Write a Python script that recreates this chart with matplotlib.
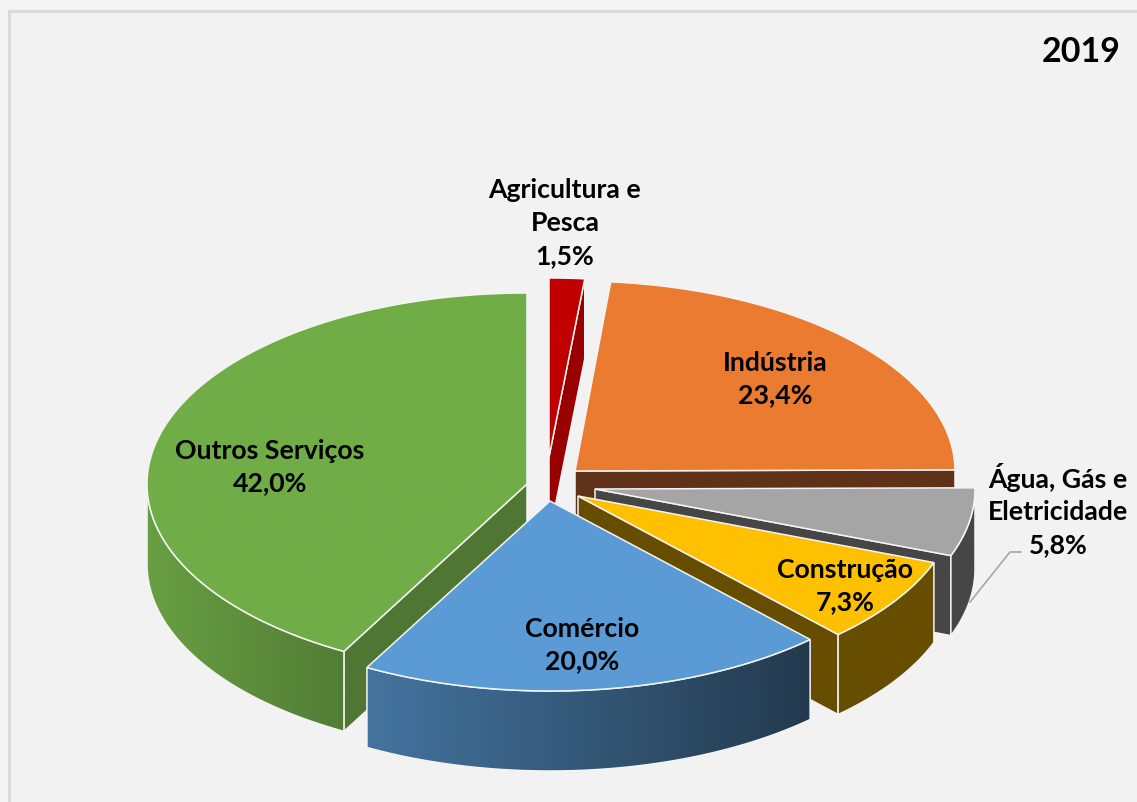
"""
Pizza 3D "explodida" com a composicao por setor em 2019.
O matplotlib nao tem pizza 3D, por isso as faces sao projetadas a mao.
"""

import matplotlib

matplotlib.use("Agg")

import matplotlib.pyplot as plt
import numpy as np
from matplotlib.patches import Polygon

# Dados
SETORES = [
    "Agricultura e\nPesca",
    "Indústria",
    "Água, Gás e\nEletricidade",
    "Construção",
    "Comércio",
    "Outros Serviços",
]
VALORES = [1.5, 23.4, 5.8, 7.3, 20.0, 42.0]
ANO = "2019"

# Estilo
COR_TOPO = ["#C00000", "#EA7B30", "#A5A5A5", "#FFC000", "#5B9BD5", "#70AD47"]
COR_CORTE = ["#990000", "#5F3218", "#464646", "#664D00", "#223A50", "#4F7733"]
COR_LADO_ESQ = ["#990000", "#5F3218", "#464646", "#664D00", "#44749F", "#689F43"]
COR_LADO_DIR = ["#990000", "#5F3218", "#464646", "#664D00", "#233A4E", "#527D35"]

# Geometria em pixels da imagem
LARGURA, ALTURA = 1137, 803
RX = 380
RY = [179, 190, 190, 190, 190, 191]
PROFUNDIDADE = 80
APICES = [(549, 458), (575, 472), (595, 490), (578, 497), (550, 502), (527, 485)]
ORDEM = [1, 0, 5, 2, 3, 4]  # de tras para a frente
POS_ROTULOS = [
    (565, 223),
    (775, 379),
    (1058, 510),
    (845, 586),
    (582, 645),
    (270, 467),
]
GUIA_X = [1021, 1010, 970]
GUIA_Y = [553, 553, 603]


def arco(apice, ry, ini, fim):
    """Pontos da borda entre dois angulos (graus, horario a partir do topo)."""
    t = np.radians(np.linspace(ini, fim, 120))
    return np.column_stack((apice[0] + RX * np.sin(t), apice[1] - ry * np.cos(t)))


def face(eje, pontos, cor_esq, cor_dir, z):
    """Preenche um poligono com degrade horizontal e contorno branco."""
    x0, x1 = pontos[:, 0].min(), pontos[:, 0].max()
    y0, y1 = pontos[:, 1].min(), pontos[:, 1].max()
    c0 = np.array(matplotlib.colors.to_rgb(cor_esq))
    c1 = np.array(matplotlib.colors.to_rgb(cor_dir))
    degrade = np.linspace(0, 1, 256)[None, :, None] * (c1 - c0) + c0
    imagem = eje.imshow(
        degrade, extent=(x0, x1, y1, y0), aspect="auto",
        interpolation="bilinear", zorder=z,
    )
    imagem.set_clip_path(Polygon(pontos, closed=True, transform=eje.transData))
    eje.add_patch(
        Polygon(pontos, closed=True, facecolor="none", edgecolor="#F4F4F4",
                linewidth=1.1, zorder=z + 0.5)
    )


figura = plt.figure(figsize=(LARGURA / 100, ALTURA / 100), dpi=100, facecolor="#F4F4F4")
eje = figura.add_axes([0, 0, 1, 1])
eje.set_facecolor("#F2F2F2")
eje.axis("off")

# Fundo do grafico: so as bordas superior e esquerda aparecem no recorte
eje.add_patch(
    Polygon([(9, 12), (LARGURA + 5, 12), (LARGURA + 5, ALTURA + 5), (9, ALTURA + 5)],
            closed=True, facecolor="#F2F2F2", edgecolor="#D9D9D9", linewidth=2, zorder=0.1)
)

limites = np.concatenate(([0], np.cumsum(VALORES))) / sum(VALORES) * 360
z = 1
for i in ORDEM:
    ini, fim = limites[i], limites[i + 1]
    apice = np.array(APICES[i], dtype=float)
    borda = arco(apice, RY[i], ini, fim)
    desce = np.array([0, PROFUNDIDADE])

    # Parede do corte radial, so quando esta virada para quem olha
    for ang, visivel in ((ini, np.sin(np.radians(ini)) < -1e-6),
                         (fim, np.sin(np.radians(fim)) > 1e-6)):
        if visivel:
            canto = arco(apice, RY[i], ang, ang)[0]
            parede = np.array([apice, canto, canto + desce, apice + desce])
            face(eje, parede, COR_CORTE[i], COR_CORTE[i], z)
            z += 1

    # Parede externa: apenas a metade da frente da elipse
    a0, a1 = max(ini, 90), min(fim, 270)
    if a0 < a1:
        frente = arco(apice, RY[i], a0, a1)
        lado = np.vstack((frente, frente[::-1] + desce))
        face(eje, lado, COR_LADO_ESQ[i], COR_LADO_DIR[i], z)
        z += 1

    # Tampa
    topo = np.vstack((apice, borda))
    face(eje, topo, COR_TOPO[i], COR_TOPO[i], z)
    z += 1

eje.plot(GUIA_X, GUIA_Y, color="#A6A6A6", linewidth=1.2, zorder=z)
z += 1

for setor, valor, (x, y) in zip(SETORES, VALORES, POS_ROTULOS):
    texto = f"{setor}\n{valor:.1f}%".replace(".", ",")
    eje.text(x, y, texto, ha="center", va="center", family="Lato", weight="bold",
             fontsize=19.2, color="black", linespacing=1.44, zorder=z)

eje.text(1081, 52, ANO, ha="center", va="center", family="Lato", weight="bold",
         fontsize=24.5, color="black", zorder=z)

eje.set_xlim(0, LARGURA)
eje.set_ylim(ALTURA, 0)

figura.savefig("out.png", dpi=100, facecolor=figura.get_facecolor())
plt.close(figura)
